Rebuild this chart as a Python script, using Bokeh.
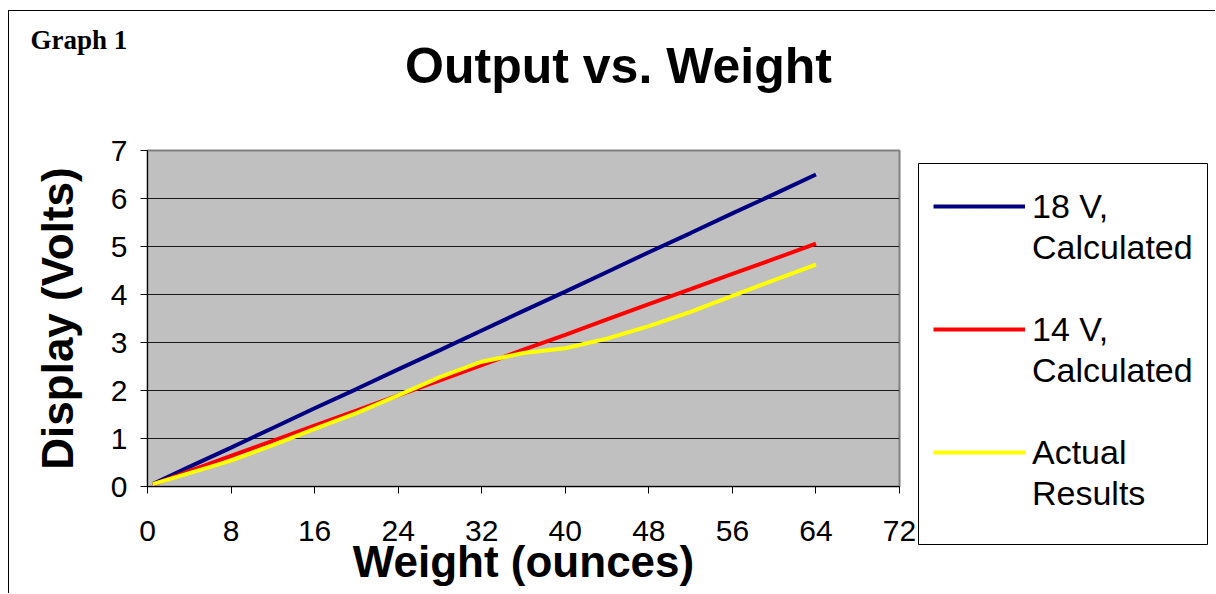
from bokeh.plotting import figure
from bokeh.layouts import column, row
from bokeh.models import Range1d, Legend, LegendItem, Label, FixedTicker, Spacer
from bokeh.embed import file_html
from bokeh.resources import INLINE

# ---- data ----
weights = [0.5, 4, 8, 12, 16, 20, 24, 28, 32, 36, 40, 44, 48, 52, 56, 60, 64]
volts_18v_calc = [0.05, 0.41, 0.81, 1.22, 1.63, 2.03, 2.44, 2.84, 3.25, 3.66,
                  4.06, 4.47, 4.88, 5.28, 5.69, 6.09, 6.50]
volts_14v_calc = [0.04, 0.32, 0.64, 0.95, 1.27, 1.58, 1.90, 2.21, 2.53, 2.85,
                  3.16, 3.48, 3.80, 4.11, 4.43, 4.74, 5.06]
volts_actual = [0.05, 0.28, 0.54, 0.86, 1.20, 1.53, 1.90, 2.28, 2.60, 2.78,
                2.88, 3.08, 3.34, 3.64, 3.97, 4.30, 4.62]
x_ticks = [0, 8, 16, 24, 32, 40, 48, 56, 64, 72]
y_ticks = [0, 1, 2, 3, 4, 5, 6, 7]
series_label_lines = [["18 V,", "Calculated"], ["14 V,", "Calculated"], ["Actual", "Results"]]
series_colors = ["#000080", "#FF0000", "#FFFF00"]
series_values = [volts_18v_calc, volts_14v_calc, volts_actual]

FONT = "Liberation Sans"

# ---------------- header (titles) ----------------
header = figure(width=1206, height=120, output_backend="svg", toolbar_location=None,
                x_range=Range1d(0, 1206), y_range=Range1d(0, 120),
                x_axis_location=None, y_axis_location=None,
                min_border_left=0, min_border_right=0,
                min_border_top=0, min_border_bottom=0)
header.outline_line_color = None
header.background_fill_color = "white"
header.border_fill_color = "white"
header.grid.visible = False
header.add_layout(Label(x=609, y=66, text="Output vs. Weight", text_font=FONT,
                        text_font_size="50px", text_font_style="bold",
                        text_align="center", text_baseline="alphabetic",
                        text_color="black"))
header.add_layout(Label(x=21, y=92, text="Graph 1", text_font="Liberation Serif",
                        text_font_size="27px", text_font_style="bold",
                        text_align="left", text_baseline="alphabetic",
                        text_color="black"))

# ---------------- main chart ----------------
p = figure(width=907, height=462, output_backend="svg", toolbar_location=None,
           x_range=Range1d(0, 72), y_range=Range1d(0, 7),
           min_border_left=138, min_border_right=17,
           min_border_top=19, min_border_bottom=107)
p.background_fill_color = "#C0C0C0"
p.border_fill_color = "white"
p.outline_line_color = "#808080"
p.outline_line_width = 2

p.xaxis.ticker = FixedTicker(ticks=x_ticks)
p.yaxis.ticker = FixedTicker(ticks=y_ticks)
for ax in (p.xaxis[0], p.yaxis[0]):
    ax.major_label_text_font = FONT
    ax.major_label_text_font_size = "30px"
    ax.major_label_text_color = "black"
    ax.axis_label_text_font = FONT
    ax.axis_label_text_font_style = "bold"
    ax.axis_label_text_color = "black"
    ax.major_tick_in = 0
    ax.major_tick_out = 7
    ax.minor_tick_in = 0
    ax.minor_tick_out = 0
    ax.axis_line_color = "black"
    ax.major_tick_line_color = "black"

p.xaxis.axis_label = "Weight (ounces)"
p.xaxis.axis_label_text_font_size = "44px"
p.xaxis.major_label_standoff = 27
p.xaxis.axis_label_standoff = -7

p.yaxis.axis_label = "Display (Volts)"
p.yaxis.axis_label_text_font_size = "44px"
p.yaxis.major_label_standoff = 13
p.yaxis.axis_label_standoff = 26

p.xgrid.visible = False
p.ygrid.ticker = FixedTicker(ticks=y_ticks)
p.ygrid.grid_line_color = "#1a1a1a"
p.ygrid.grid_line_width = 1

for vals, col in zip(series_values, series_colors):
    p.line(weights, vals, line_color=col, line_width=4)

# ---------------- legend panel ----------------
lg = figure(width=292, height=382, output_backend="svg", toolbar_location=None,
            x_range=Range1d(-20, -10), y_range=Range1d(-20, -10),
            x_axis_location=None, y_axis_location=None,
            min_border_left=2, min_border_right=0,
            min_border_top=0, min_border_bottom=0)
lg.grid.visible = False
lg.background_fill_color = "white"
lg.border_fill_color = "white"
lg.outline_line_color = "black"
lg.outline_line_width = 1

blank = lg.line([], [], line_alpha=0)
items = []
for k, (lines, vals, col) in enumerate(zip(series_label_lines, series_values, series_colors)):
    r = lg.line(weights, vals, line_color=col, line_width=4)
    items.append(LegendItem(label=lines[0], renderers=[r]))
    items.append(LegendItem(label=lines[1], renderers=[blank]))
    if k < 2:
        items.append(LegendItem(label=" ", renderers=[blank]))

legend = Legend(
    items=items,
    location=(15, 32),
    label_text_font=FONT,
    label_text_font_size="34px",
    label_text_color="black",
    glyph_width=92,
    glyph_height=40,
    label_height=40,
    label_standoff=7,
    padding=0,
    margin=0,
    spacing=1,
    border_line_color=None,
    background_fill_alpha=0,
)
lg.add_layout(legend, "center")

layout = column(header, row(p, column(Spacer(width=292, height=32), lg)))
layout.styles = {"border-top": "1px solid black", "border-left": "1px solid black",
                 "margin-left": "8px", "margin-top": "10px"}

open("out.html", "w").write(file_html(layout, INLINE))
